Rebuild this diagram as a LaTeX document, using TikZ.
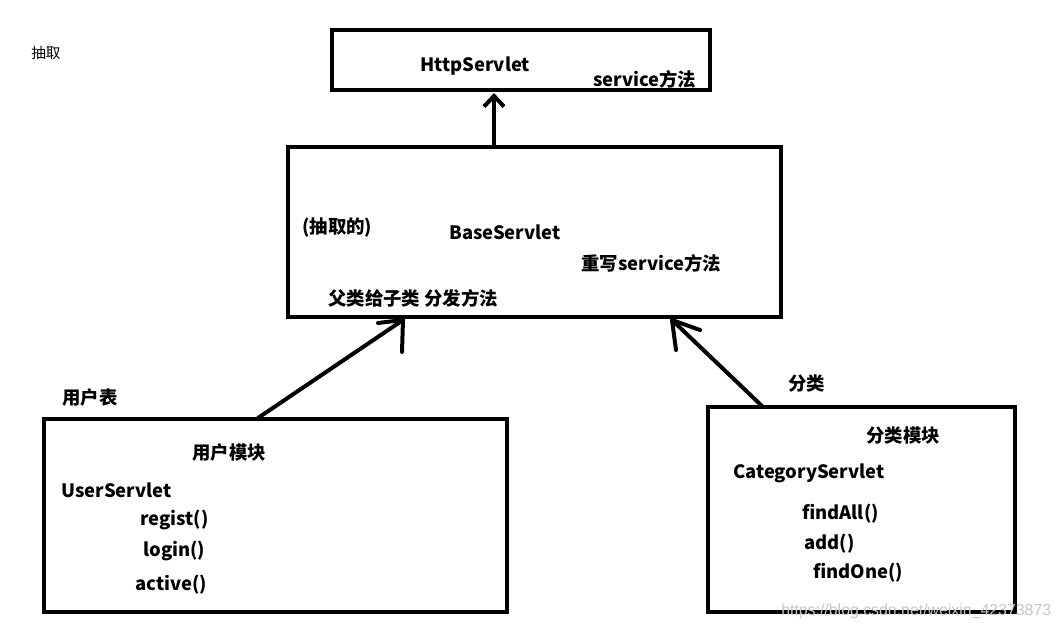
\documentclass[tikz,border=0pt]{standalone}
\usepackage{fontspec}
\setmainfont{Noto Sans CJK SC}
\newfontfamily\wmfont{Liberation Sans}
\usetikzlibrary{calc,arrows.meta}
\begin{document}
\begin{tikzpicture}[x=0.75pt,y=-0.75pt,
  box/.style={draw,line width=3pt,rectangle,inner sep=0pt,outer sep=0pt},
  lbl/.style={anchor=west,inner sep=0pt,font=\fontsize{13.8}{15}\selectfont\bfseries},
  link/.style={line width=3pt,line cap=round},
  wm/.style={anchor=west,inner sep=0pt,text=black!22,font=\wmfont\fontsize{11.9}{13}\selectfont}]
\useasboundingbox[fill=white] (0,0) rectangle (1063,632);
% boxes
\node[box,minimum width=283.5pt,minimum height=45pt] (http) at (521,60) {};
\node[box,minimum width=369.75pt,minimum height=127.5pt] (base) at (534.5,232) {};
\node[box,minimum width=347.25pt,minimum height=144.75pt] (user) at (275.5,515.5) {};
\node[box,minimum width=230.25pt,minimum height=153.75pt] (cat) at (861.5,509.5) {};
% texts
\node[anchor=west,inner sep=0pt,font=\fontsize{11}{12}\selectfont] (t0) at (31,53) {抽取};
\node[lbl] (t1) at (420,66) {HttpServlet};
\node[lbl] (t2) at (593,79) {service方法};
\node[lbl] (t3) at (302,228) {(抽取的)};
\node[lbl] (t4) at (449,232) {BaseServlet};
\node[lbl] (t5) at (581,263) {重写service方法};
\node[lbl] (t6) at (328,298) {父类给子类 分发方法};
\node[lbl] (t7) at (62,398) {用户表};
\node[lbl] (t8) at (192,453) {用户模块};
\node[lbl] (t9) at (61,490) {UserServlet};
\node[lbl] (t10) at (140,520) {regist()};
\node[lbl] (t11) at (143,551) {login()};
\node[lbl] (t12) at (135,585) {active()};
\node[lbl] (t13) at (788,384) {分类};
\node[lbl] (t14) at (866,436) {分类模块};
\node[lbl] (t15) at (733,473) {CategoryServlet};
\node[lbl] (t16) at (802,514) {findAll()};
\node[lbl] (t17) at (804,544) {add()};
\node[lbl] (t18) at (813,573) {findOne()};
\node[wm] (wmk) at (781,611) {https://blog.csdn.net/weixin\_42373873};
% connector base -> http
\draw[link,-{Straight Barb[length=8pt,width=15pt,line width=3pt]}] ($(base.north west)+(206,0)$) -- ($(http.south west)+(162,3)$);
% connector user -> base (hand drawn head)
\coordinate (tipU) at ($(base.south west)+(115,3)$);
\draw[link] ($(user.north west)+(214,-1)$) -- (tipU);
\draw[link] (tipU) -- ++(-1,32);
\draw[link] (tipU) -- ++(-25,3);
% connector cat -> base
\coordinate (tipC) at ($(base.south west)+(384,3)$);
\draw[link] ($(cat.north west)+(54,-1)$) -- (tipC);
\draw[link] (tipC) -- ++(4,30);
\draw[link] (tipC) -- ++(28,10);
\end{tikzpicture}
\end{document}
